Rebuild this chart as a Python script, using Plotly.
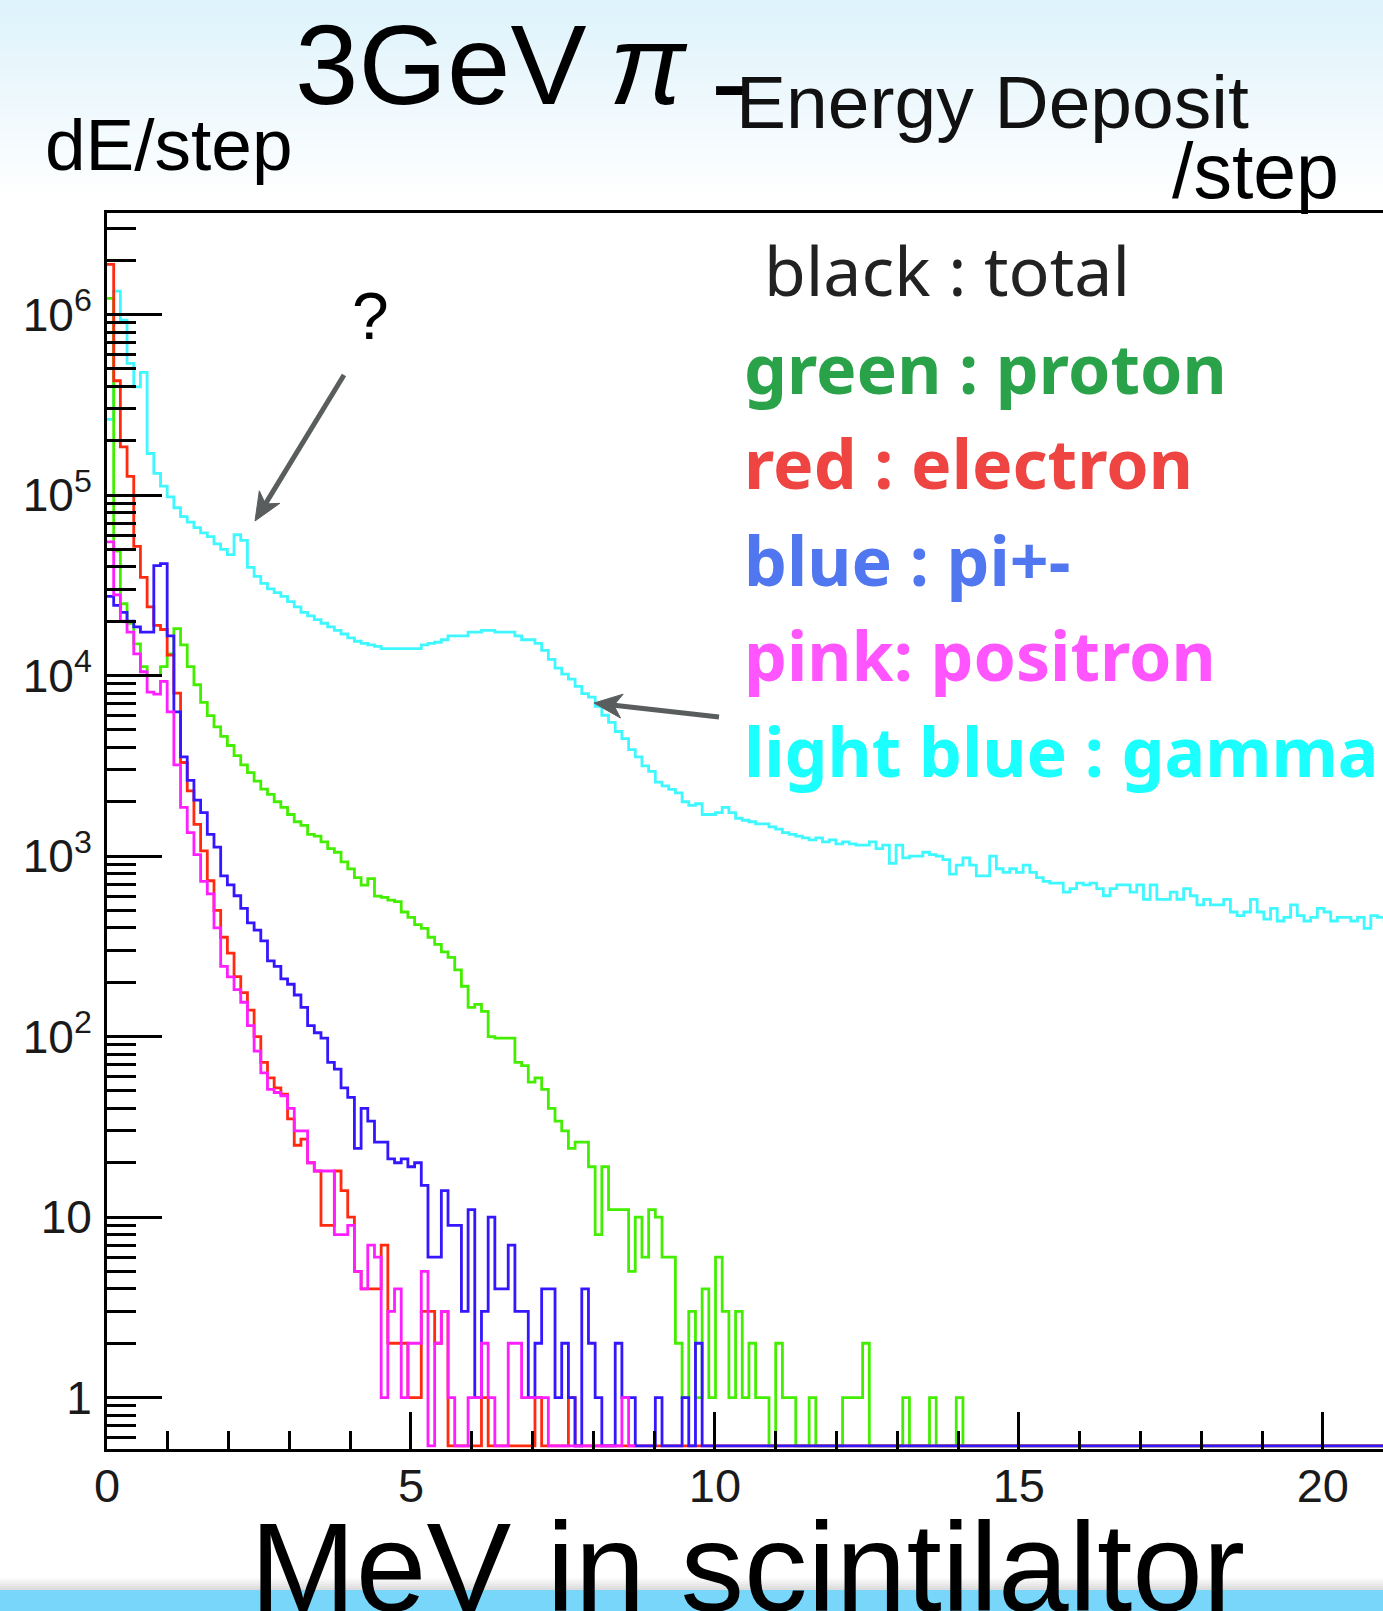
import math
import plotly.graph_objects as go

# ---------------- data (counts per 0.11 MeV bin) -------------
BIN_WIDTH = 0.11  # MeV

gamma = [
    263000, 1349000, 933000, 537000, 398000, 479000, 170000, 132000, 112000, 97700,
    85100, 75900, 70800, 66100, 61700, 58900, 53700, 50100, 46800, 60300,
    56200, 39800, 35500, 32400, 30200, 28800, 27500, 25700, 24000, 22400,
    21400, 20400, 19500, 18600, 17800, 17000, 16200, 15500, 15100, 14800,
    14500, 14100, 14100, 14100, 14100, 14100, 14100, 14800, 15100, 15300,
    15800, 16600, 16600, 16600, 17400, 17400, 17800, 17800, 17400, 17400,
    17400, 16600, 15800, 15800, 15100, 13800, 12300, 11000, 10200, 9550,
    8710, 7940, 7590, 6760, 6030, 5500, 4900, 4470, 3890, 3550,
    3160, 2950, 2570, 2450, 2340, 2240, 2000, 1910, 1950, 1700,
    1700, 1740, 1860, 1740, 1620, 1580, 1550, 1510, 1510, 1450,
    1410, 1350, 1320, 1290, 1260, 1230, 1260, 1200, 1230, 1170,
    1200, 1170, 1150, 1150, 1200, 1100, 1150, 912, 1150, 977,
    1000, 1000, 1050, 1020, 1000, 955, 794, 891, 977, 891,
    776, 776, 1000, 851, 813, 851, 813, 891, 813, 759,
    724, 708, 708, 631, 661, 708, 692, 708, 661, 603,
    661, 692, 692, 631, 692, 575, 692, 575, 575, 631,
    575, 661, 603, 537, 575, 537, 537, 575, 490, 468,
    490, 575, 490, 447, 513, 437, 457, 537, 468, 437,
    457, 513, 490, 437, 457, 457, 437, 457, 398, 468,
    457, 437,
]

proton = [
    1230000, 49000, 25000, 19500, 15000, 11200, 10000, 10000, 11200, 13200,
    18200, 14800, 11200, 8900, 7100, 6000, 5200, 4600, 4100, 3600,
    3200, 2900, 2600, 2350, 2200, 2000, 1860, 1700, 1550, 1480,
    1320, 1290, 1200, 1100, 1050, 930, 850, 760, 690, 750,
    600, 590, 570, 560, 490, 457, 417, 398, 355, 324,
    295, 275, 234, 190, 145, 151, 138, 100, 98, 98,
    98, 72, 69, 56, 59, 51, 40, 34, 30, 24,
    26, 26, 19, 8, 19, 11, 11, 11, 5, 10,
    6, 11, 10, 6, 6, 2, 1, 3, 1, 4,
    1, 6, 3, 1, 3, 1, 2, 1, 1, 0,
    2, 1, 1, 0, 0, 1, 0, 0, 0, 0,
    1, 1, 1, 2, 0, 0, 0, 0, 0, 1,
    0, 0, 0, 1, 0, 0, 0, 1,
]

electron = [
    1900000, 430000, 185000, 127000, 52000, 35000, 24000, 19000, 18000, 13000,
    8000, 3300, 2300, 1500, 1070, 730, 500, 355, 290, 215,
    175, 140, 100, 72, 59, 52, 48, 35, 25, 27,
    20, 18, 9, 9, 18, 14, 10, 5, 4, 4,
    4, 7, 2, 2, 2, 1, 1, 3, 3, 2,
    3, 0, 0, 0, 0, 0, 1, 0, 0, 0,
    0, 0, 0, 0, 1, 0, 0, 0, 0, 1,
]

pion = [
    27500, 24500, 22400, 20000, 18600, 17400, 17400, 40700, 41700, 16600,
    6300, 3550, 2630, 2040, 1740, 1320, 1120, 776, 692, 603,
    513, 427, 389, 339, 263, 245, 209, 195, 170, 145,
    115, 105, 98, 72, 66, 52, 46, 24, 40, 34,
    26, 26, 21, 20, 21, 19, 20, 15, 6, 6,
    14, 9, 9, 3, 11, 1, 3, 10, 4, 4,
    7, 3, 3, 1, 2, 4, 4, 1, 2, 1,
    0, 4, 2, 1, 0, 0, 2, 1, 1, 0,
    0, 0, 1, 0, 0, 0, 1, 0, 2,
]

positron = [
    55000, 28000, 20000, 17400, 13200, 10500, 8100, 7900, 9300, 6300,
    3200, 1860, 1350, 1020, 725, 617, 400, 245, 214, 182,
    155, 115, 83, 63, 51, 49, 47, 40, 30, 30,
    20, 18, 18, 18, 8, 8, 9, 5, 4, 7,
    6, 1, 3, 4, 1, 2, 2, 5, 0, 2,
    3, 1, 0, 0, 1, 1, 2, 1, 0, 0,
    2, 2, 1, 1, 1, 1, 0, 0, 0, 0,
    0, 0, 0, 0, 0, 0, 0, 1, 0,
]

x_ticks = [0, 5, 10, 15, 20]
y_ticks = [1, 10, 100, 1000, 10000, 100000, 1000000]
y_tick_text = ["1", "10", "10<sup>2</sup>", "10<sup>3</sup>", "10<sup>4</sup>",
               "10<sup>5</sup>", "10<sup>6</sup>"]

legend_lines = [
    ("black : total", "#222222", "normal"),
    ("green : proton", "#29a249", "bold"),
    ("red : electron", "#ee4542", "bold"),
    ("blue : pi+-", "#5077ef", "bold"),
    ("pink: positron", "#ff55ff", "bold"),
    ("light blue : gamma", "#1bffff", "bold"),
]

# ---------------- layout geometry ----------------
W, H = 1383, 1611
L, R, T, B = 107, 0, 213, 162
PW = W - L - R
PH = H - T - B
N_BINS = len(gamma)
Y_LOG_RANGE = [-0.285, 6.563]
FLOOR = 0.54  # empty bins are drawn on the bottom of the frame (ROOT style)


def px(x):
    return (x - L) / PW


def py(y):
    return (H - B - y) / PH


def step_xy(counts, pad_to=None):
    c = list(counts)
    if pad_to is not None and len(c) < pad_to:
        c = c + [0] * (pad_to - len(c))
    xs = [i * BIN_WIDTH for i in range(len(c) + 1)]
    ys = [v if v > 0 else FLOOR for v in c]
    ys.append(ys[-1])
    return xs, ys


fig = go.Figure()

series = [
    (gamma, "#3ff7ff", None),
    (proton, "#44ee00", N_BINS),
    (electron, "#ff2a10", N_BINS),
    (pion, "#3416ff", N_BINS),
    (positron, "#ff1eff", None),
]
for counts, color, pad in series:
    xs, ys = step_xy(counts, pad)
    fig.add_trace(go.Scatter(x=xs, y=ys, mode="lines",
                             line=dict(color=color, width=2.8, shape="hv"),
                             hoverinfo="skip", showlegend=False))

# ---------------- background decoration ----------------
shapes = []
bands = 24
for i in range(bands):
    f = i / (bands - 1)
    r = int(222 + (255 - 222) * f)
    g = int(243 + (255 - 243) * f)
    b = int(252 + (255 - 252) * f)
    y0 = i * 200 / bands
    y1 = (i + 1) * 200 / bands + 0.5
    shapes.append(dict(type="rect", xref="paper", yref="paper",
                       x0=px(0), x1=px(W), y0=py(y1), y1=py(y0),
                       fillcolor=f"rgb({r},{g},{b})", line=dict(width=0), layer="below"))
for i in range(6):
    c = 250 - i * 6
    y0 = 1578 + i * 2
    shapes.append(dict(type="rect", xref="paper", yref="paper",
                       x0=px(0), x1=px(W), y0=py(y0 + 2.2), y1=py(y0),
                       fillcolor=f"rgb({c},{c},{c})", line=dict(width=0), layer="below"))
shapes.append(dict(type="rect", xref="paper", yref="paper",
                   x0=px(0), x1=px(W), y0=py(H + 2), y1=py(1590),
                   fillcolor="#78d6fb", line=dict(width=0), layer="below"))

# arrows drawn as a shaft plus a barbed head (pixel geometry -> paper coords)
ARROW_COLOR = "#5a5d5d"
for (hx, hy), (tx, ty) in [((255, 521), (344, 375)), ((594, 703), (719, 717))]:
    dx, dy = hx - tx, hy - ty
    d = math.hypot(dx, dy)
    ux, uy = dx / d, dy / d
    nx, ny = -uy, ux
    bx, by = hx - 18 * ux, hy - 18 * uy
    shapes.append(dict(type="line", xref="paper", yref="paper",
                       x0=px(tx), y0=py(ty), x1=px(bx), y1=py(by),
                       line=dict(color=ARROW_COLOR, width=5), layer="above"))
    pts = [(hx, hy),
           (hx - 28 * ux + 12 * nx, hy - 28 * uy + 12 * ny),
           (hx - 20 * ux, hy - 20 * uy),
           (hx - 28 * ux - 12 * nx, hy - 28 * uy - 12 * ny)]
    path = "M " + " L ".join(f"{px(a):.5f},{py(b):.5f}" for a, b in pts) + " Z"
    shapes.append(dict(type="path", xref="paper", yref="paper", path=path,
                       fillcolor=ARROW_COLOR, line=dict(color=ARROW_COLOR, width=1),
                       layer="above"))

# ---------------- texts ----------------
ann = []


def text(s, x, y_mid, size, color="#111111", family="Liberation Sans", weight="normal"):
    ann.append(dict(text=s, xref="paper", yref="paper", x=px(x), y=py(y_mid),
                    xanchor="left", yanchor="middle", showarrow=False,
                    font=dict(family=family, size=size, color=color, weight=weight)))


text("3GeV\u2009<i>π</i>", 293, 104 - 0.35 * 114, 114, color="#000000")
text("-", 709, 121 - 0.35 * 114, 114, color="#000000")
text("Energy Deposit", 734, 128 - 0.35 * 75, 75)
text("dE/step", 43, 170 - 0.35 * 73, 73, color="#000000")
text("/step", 1170, 198 - 0.35 * 77, 77, color="#000000")
text("?", 350, 339 - 0.35 * 66, 66, color="#000000")
text("MeV in scintilaltor", 248, 1611 - 0.35 * 127, 127, color="#000000")

leg_base = [296, 393.5, 489, 586, 681, 777]
for (s, col, wt), yb in zip(legend_lines, leg_base):
    x0 = 762 if wt == "normal" else 742
    text(s, x0, yb - 0.388 * 68, 68, color=col, family="Noto Sans", weight=wt)

minor_y = [m * 10 ** e for e in range(-1, 7) for m in range(2, 10)
           if Y_LOG_RANGE[0] < math.log10(m * 10 ** e) < Y_LOG_RANGE[1]]

fig.update_layout(
    template="none",
    width=W, height=H,
    margin=dict(l=L, r=R, t=T, b=B, pad=0),
    paper_bgcolor="white", plot_bgcolor="white",
    showlegend=False,
    shapes=shapes,
    annotations=ann,
    xaxis=dict(range=[0, 20.99], showgrid=False, zeroline=False,
               showline=True, linecolor="black", linewidth=3, mirror=True,
               ticks="inside", ticklen=37, tickwidth=2.5, tickcolor="black",
               tickvals=x_ticks, ticktext=[str(v) for v in x_ticks],
               minor=dict(ticks="inside", ticklen=18, tickwidth=2.5, tickcolor="black",
                          dtick=1, showgrid=False),
               tickfont=dict(family="Liberation Sans", size=47, color="#1a1a1a"),
               ticklabelstandoff=-6, automargin=False, layer="above traces"),
    yaxis=dict(type="log", range=Y_LOG_RANGE, showgrid=False, zeroline=False,
               showline=True, linecolor="black", linewidth=3, mirror=False,
               ticks="inside", ticklen=55, tickwidth=3, tickcolor="black",
               tickvals=y_ticks, ticktext=y_tick_text,
               minor=dict(ticks="inside", ticklen=29, tickwidth=3, tickcolor="black",
                          tickvals=minor_y, showgrid=False),
               tickfont=dict(family="Liberation Sans", size=46, color="#1a1a1a"),
               ticklabelstandoff=3, automargin=False, layer="above traces"),
)

fig.write_html("out.html")
